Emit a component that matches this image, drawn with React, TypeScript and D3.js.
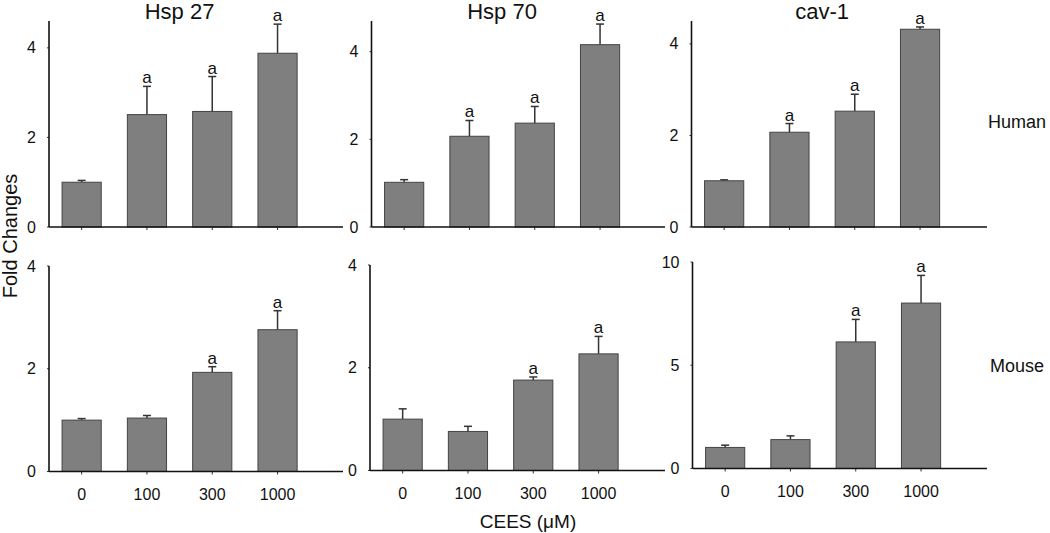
import React from "react";
import * as d3 from "d3";

// ---- data ----
const doses = ["0", "100", "300", "1000"];
const genes = ["Hsp 27", "Hsp 70", "cav-1"];
const species = ["Human", "Mouse"];

const humanHsp27 = [1.0, 2.51, 2.58, 3.88];
const humanHsp27Err = [0.04, 0.63, 0.78, 0.65];
const humanHsp70 = [1.02, 2.07, 2.37, 4.16];
const humanHsp70Err = [0.06, 0.36, 0.38, 0.47];
const humanCav1 = [1.01, 2.07, 2.53, 4.32];
const humanCav1Err = [0.02, 0.19, 0.37, 0.05];

const mouseHsp27 = [1.0, 1.04, 1.93, 2.76];
const mouseHsp27Err = [0.03, 0.05, 0.11, 0.37];
const mouseHsp70 = [1.0, 0.76, 1.76, 2.27];
const mouseHsp70Err = [0.2, 0.1, 0.06, 0.34];
const mouseCav1 = [1.02, 1.4, 6.13, 8.01];
const mouseCav1Err = [0.11, 0.18, 1.09, 1.34];

const humanSig = [false, true, true, true];
const mouseSig = [false, false, true, true];

const yMaxTop = [4.6, 4.7, 4.5];
const yMaxBottom = [4, 4, 10];
const yTicksTop = [[0, 2, 4], [0, 2, 4], [0, 2, 4]];
const yTicksBottom = [[0, 2, 4], [0, 2, 4], [0, 5, 10]];

// ---- layout ----
const FONT = "'Liberation Sans', Arial, sans-serif";
const axisXTop = [49, 371.5, 691.5];
const axisXBottom = [49, 370, 692.5];
const axisEnd = [343, 665, 987];
const yRangeTop = [[227, 21], [227, 21], [227, 21]];
const yRangeBottom = [[471.5, 266], [470.5, 265], [468.5, 262]];
const STEP = 65.3;

type PanelProps = {
  values: number[];
  errs: number[];
  sig: boolean[];
  yMax: number;
  ticks: number[];
  ax: number;
  axEnd: number;
  yr: number[];
  showX: boolean;
  title?: string;
};

function Panel({ values, errs, sig, yMax, ticks, ax, axEnd, yr, showX, title }: PanelProps) {
  const x = d3
    .scaleBand<string>()
    .domain(doses)
    .range([ax, ax + STEP * 4])
    .paddingInner(0.4)
    .paddingOuter(0.2);
  const y = d3.scaleLinear().domain([0, yMax]).range(yr);
  const bw = x.bandwidth();
  const base = y(0);
  const cap = 4;
  return (
    <g>
      {title && (
        <text
          x={(x(doses[1])! + x(doses[2])! + bw) / 2}
          y={19}
          textAnchor="middle"
          fontSize={22}
          fontFamily={FONT}
          fill="#111"
        >
          {title}
        </text>
      )}
      {values.map((v, i) => {
        const cx = x(doses[i])! + bw / 2;
        const top = y(v + errs[i]);
        return (
          <g key={i}>
            <line x1={cx} x2={cx} y1={y(v)} y2={top} stroke="#333" strokeWidth={1.5} />
            <line x1={cx - cap} x2={cx + cap} y1={top} y2={top} stroke="#333" strokeWidth={1.5} />
            <rect
              x={x(doses[i])!}
              y={y(v)}
              width={bw}
              height={base - y(v)}
              fill="#7f7f7f"
              stroke="#444"
              strokeWidth={1}
            />
            {sig[i] && (
              <text
                x={cx}
                y={top - 3}
                textAnchor="middle"
                fontSize={17}
                fontFamily={FONT}
                fill="#111"
              >
                a
              </text>
            )}
            <line x1={cx} x2={cx} y1={base} y2={base + 3} stroke="#333" strokeWidth={1} />
            {showX && (
              <text
                x={cx}
                y={base + 28}
                textAnchor="middle"
                fontSize={16}
                fontFamily={FONT}
                fill="#111"
              >
                {doses[i]}
              </text>
            )}
          </g>
        );
      })}
      {ticks.map((t) => (
        <g key={t}>
          <line x1={ax - 2} x2={ax} y1={y(t)} y2={y(t)} stroke="#333" strokeWidth={1} />
          <text
            x={ax - 13}
            y={y(t)}
            dy="0.35em"
            textAnchor="end"
            fontSize={16}
            fontFamily={FONT}
            fill="#111"
          >
            {t}
          </text>
        </g>
      ))}
      <line x1={ax} x2={ax} y1={yr[1]} y2={base} stroke="#111" strokeWidth={1.6} />
      <line x1={ax} x2={axEnd} y1={base} y2={base} stroke="#111" strokeWidth={1.6} />
    </g>
  );
}

export default function App() {
  const human = [
    [humanHsp27, humanHsp27Err],
    [humanHsp70, humanHsp70Err],
    [humanCav1, humanCav1Err],
  ];
  const mouse = [
    [mouseHsp27, mouseHsp27Err],
    [mouseHsp70, mouseHsp70Err],
    [mouseCav1, mouseCav1Err],
  ];
  return (
    <div style={{ position: "absolute", left: 0, top: 0 }}>
      <svg width={1050} height={533} style={{ display: "block", background: "#fff" }}>
        {human.map(([v, e], i) => (
          <Panel
            key={"h" + i}
            values={v}
            errs={e}
            sig={humanSig}
            yMax={yMaxTop[i]}
            ticks={yTicksTop[i]}
            ax={axisXTop[i]}
            axEnd={axisEnd[i]}
            yr={yRangeTop[i]}
            showX={false}
            title={genes[i]}
          />
        ))}
        {mouse.map(([v, e], i) => (
          <Panel
            key={"m" + i}
            values={v}
            errs={e}
            sig={mouseSig}
            yMax={yMaxBottom[i]}
            ticks={yTicksBottom[i]}
            ax={axisXBottom[i]}
            axEnd={axisEnd[i]}
            yr={yRangeBottom[i]}
            showX={true}
          />
        ))}
        <text x={988} y={128} fontSize={18} fontFamily={FONT} fill="#111">
          {species[0]}
        </text>
        <text x={990} y={372} fontSize={18} fontFamily={FONT} fill="#111">
          {species[1]}
        </text>
        <text
          transform="translate(17,236) rotate(-90)"
          textAnchor="middle"
          fontSize={20}
          fontFamily={FONT}
          fill="#111"
        >
          Fold Changes
        </text>
        <text x={528} y={528} textAnchor="middle" fontSize={19} fontFamily={FONT} fill="#111">
          CEES (μM)
        </text>
      </svg>
    </div>
  );
}
